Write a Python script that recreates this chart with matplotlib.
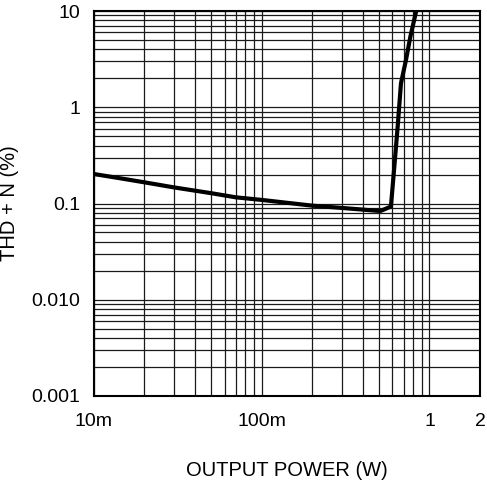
import matplotlib
matplotlib.use("Agg")
import matplotlib.pyplot as plt
from matplotlib.ticker import LogLocator, NullFormatter, FixedLocator, FixedFormatter

plt.rcParams['font.family'] = ['Liberation Sans', 'DejaVu Sans']

# Data
power_w = [0.010, 0.0143, 0.020, 0.030, 0.040, 0.050, 0.070, 0.100, 0.200, 0.300,
           0.490, 0.513, 0.589, 0.617, 0.646, 0.676, 0.724, 0.769, 0.831, 0.845]
thd_pct = [0.2025, 0.183, 0.166, 0.147, 0.136, 0.128, 0.116, 0.109, 0.095, 0.090,
           0.084, 0.084, 0.093, 0.241, 0.628, 1.77, 3.1, 5.41, 9.8, 10.5]

x_ticks = [0.01, 0.1, 1, 2]
x_tick_labels = ['10m', '100m', '1', '2']
y_ticks = [0.001, 0.01, 0.1, 1, 10]
y_tick_labels = ['0.001', '0.010', '0.1', '1', '10']

fig = plt.figure(figsize=(4.87, 4.8), dpi=100)
ax = fig.add_axes([0.193, 0.175, 0.7926, 0.802])

ax.plot(power_w, thd_pct, color='black', lw=3.0, solid_capstyle='butt', zorder=3)

ax.set_xscale('log')
ax.set_yscale('log')
ax.set_xlim(0.01, 2)
ax.set_ylim(0.001, 10)

ax.xaxis.set_major_locator(FixedLocator(x_ticks))
ax.xaxis.set_major_formatter(FixedFormatter(x_tick_labels))
ax.yaxis.set_major_locator(FixedLocator(y_ticks))
ax.yaxis.set_major_formatter(FixedFormatter(y_tick_labels))
ax.xaxis.set_minor_locator(LogLocator(base=10, subs=range(2, 10), numticks=20))
ax.yaxis.set_minor_locator(LogLocator(base=10, subs=range(2, 10), numticks=20))
ax.xaxis.set_minor_formatter(NullFormatter())
ax.yaxis.set_minor_formatter(NullFormatter())

ax.grid(True, which='both', color='#1a1a1a', lw=0.9)
ax.tick_params(which='both', length=0, labelsize=14, colors='black')
ax.tick_params(axis='x', pad=12)
ax.tick_params(axis='y', pad=10)

for s in ax.spines.values():
    s.set_linewidth(1.5)
    s.set_color('black')

ax.set_xlabel('OUTPUT POWER (W)', fontsize=14.5)
ax.set_ylabel('THD + N (%)', fontsize=14.5)
ax.xaxis.set_label_coords(0.5, -0.168)
ax.yaxis.set_label_coords(-0.194, 0.5)

fig.savefig('out.png', dpi=100)
